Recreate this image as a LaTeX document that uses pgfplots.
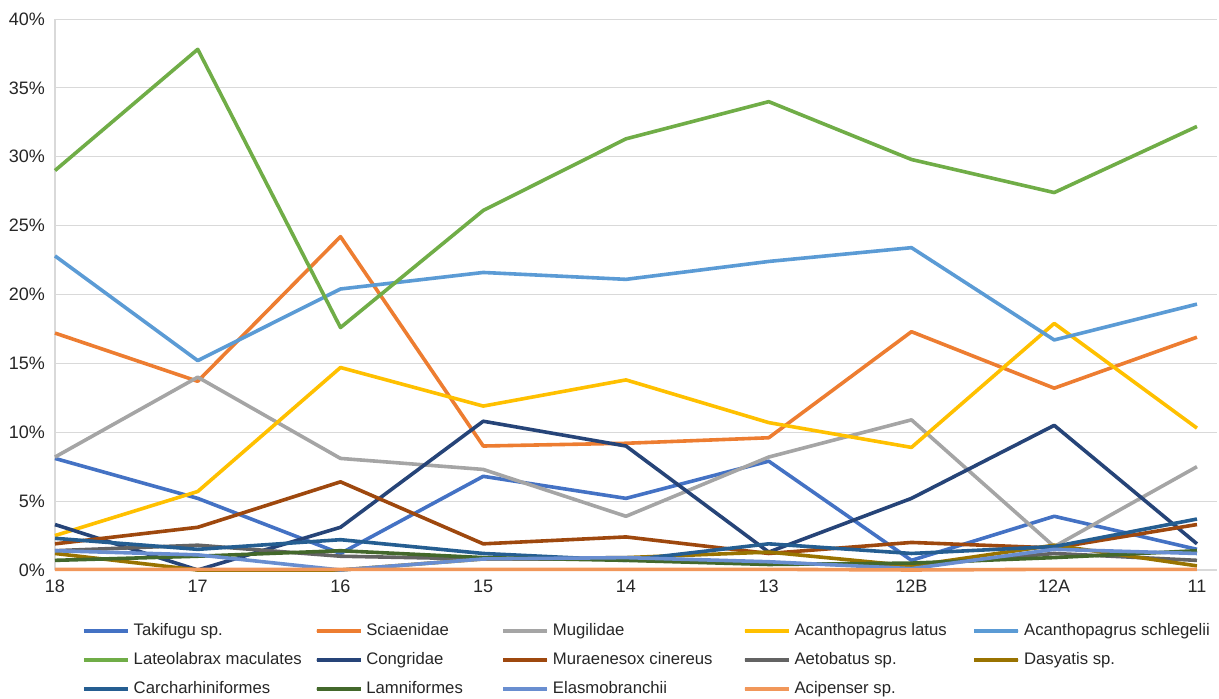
\documentclass[border=0pt]{standalone}
\usepackage{fontspec}
\setmainfont{Liberation Sans}
\usepackage{pgfplots}
\pgfplotsset{compat=1.18}

\definecolor{cTak}{HTML}{4472C4}
\definecolor{cSci}{HTML}{ED7D31}
\definecolor{cMug}{HTML}{A5A5A5}
\definecolor{cAla}{HTML}{FFC000}
\definecolor{cAsc}{HTML}{5B9BD5}
\definecolor{cLat}{HTML}{70AD47}
\definecolor{cCon}{HTML}{264478}
\definecolor{cMur}{HTML}{9E480E}
\definecolor{cAet}{HTML}{636363}
\definecolor{cDas}{HTML}{997300}
\definecolor{cCar}{HTML}{255E91}
\definecolor{cLam}{HTML}{43682B}
\definecolor{cEla}{HTML}{698ED0}
\definecolor{cAci}{HTML}{F1975A}
\definecolor{gridgray}{HTML}{D9D9D9}
\definecolor{labelgray}{HTML}{262626}

% fixed-width legend texts, one width per legend column
\newcommand{\ca}[1]{\makebox[177pt][l]{#1}}
\newcommand{\cb}[1]{\makebox[131pt][l]{#1}}
\newcommand{\cc}[1]{\makebox[186pt][l]{#1}}
\newcommand{\cd}[1]{\makebox[174pt][l]{#1}}

\begin{document}
\begin{tikzpicture}
\begin{axis}[
  scale only axis,
  width=1162pt, height=551pt,
  xmin=0, xmax=8.14,
  ymin=0, ymax=40,
  clip=false,
  axis x line*=bottom,
  axis y line*=left,
  axis line style={draw=gridgray, line width=1.2pt},
  xtick={0,...,8},
  xticklabels={18,17,16,15,14,13,12B,12A,11},
  ytick={0,5,...,40},
  yticklabel={\pgfmathprintnumber{\tick}\%},
  /pgf/number format/assume math mode=true,
  major tick length=0pt,
  ymajorgrids,
  grid style={draw=gridgray, line width=1pt},
  tick label style={font=\fontsize{18}{21}\selectfont, text=labelgray},
  yticklabel style={anchor=east, inner sep=0pt, xshift=-10pt},
  xticklabel style={anchor=north, inner sep=0pt, yshift=-10pt},
  every axis plot/.append style={line width=3.6pt, line join=round, no markers},
  legend columns=5,
  legend cell align=left,
  legend style={
    at={(0.0232,-0.0962)}, anchor=north west,
    draw=none, fill=none, inner sep=0pt,
    column sep=4pt, row sep=13pt,
    nodes={inner sep=0pt, text height=12pt, text depth=4pt,
           font=\fontsize{16.7}{19}\selectfont, text=labelgray},
  },
  legend image code/.code={%
    \draw[#1, line width=4pt, line cap=round] (2pt,0pt) -- (42pt,0pt);
    \path (0pt,0pt) -- (44pt,0pt);
  },
]

\coordinate (frameSW) at (rel axis cs:0,0);

\addplot[cTak] coordinates {(0,8.1) (1,5.2) (2,1.2) (3,6.8) (4,5.2) (5,7.9) (6,0.7) (7,3.9) (8,1.5)};
\addlegendentry{\ca{Takifugu sp.}}
\addplot[cSci] coordinates {(0,17.2) (1,13.7) (2,24.2) (3,9.0) (4,9.2) (5,9.6) (6,17.3) (7,13.2) (8,16.9)};
\addlegendentry{\cb{Sciaenidae}}
\addplot[cMug] coordinates {(0,8.2) (1,14.0) (2,8.1) (3,7.3) (4,3.9) (5,8.2) (6,10.9) (7,1.7) (8,7.5)};
\addlegendentry{\cc{Mugilidae}}
\addplot[cAla] coordinates {(0,2.5) (1,5.7) (2,14.7) (3,11.9) (4,13.8) (5,10.7) (6,8.9) (7,17.9) (8,10.3)};
\addlegendentry{\cd{Acanthopagrus latus}}
\addplot[cAsc] coordinates {(0,22.8) (1,15.2) (2,20.4) (3,21.6) (4,21.1) (5,22.4) (6,23.4) (7,16.7) (8,19.3)};
\addlegendentry{Acanthopagrus schlegelii}
\addplot[cLat] coordinates {(0,29.0) (1,37.8) (2,17.6) (3,26.1) (4,31.3) (5,34.0) (6,29.8) (7,27.4) (8,32.2)};
\addlegendentry{\ca{Lateolabrax maculates}}
\addplot[cCon] coordinates {(0,3.3) (1,0.0) (2,3.1) (3,10.8) (4,9.0) (5,1.3) (6,5.2) (7,10.5) (8,1.9)};
\addlegendentry{\cb{Congridae}}
\addplot[cMur] coordinates {(0,1.9) (1,3.1) (2,6.4) (3,1.9) (4,2.4) (5,1.2) (6,2.0) (7,1.6) (8,3.3)};
\addlegendentry{\cc{Muraenesox cinereus}}
\addplot[cAet] coordinates {(0,1.4) (1,1.8) (2,1.0) (3,0.8) (4,0.8) (5,0.5) (6,0.3) (7,1.2) (8,0.7)};
\addlegendentry{\cd{Aetobatus sp.}}
\addplot[cDas] coordinates {(0,1.2) (1,0.0) (2,0.0) (3,0.8) (4,0.9) (5,1.3) (6,0.3) (7,1.8) (8,0.3)};
\addlegendentry{Dasyatis sp.}
\addplot[cCar] coordinates {(0,2.3) (1,1.5) (2,2.2) (3,1.2) (4,0.7) (5,1.9) (6,1.2) (7,1.7) (8,3.7)};
\addlegendentry{\ca{Carcharhiniformes}}
\addplot[cLam] coordinates {(0,0.7) (1,1.0) (2,1.4) (3,0.9) (4,0.7) (5,0.4) (6,0.5) (7,0.9) (8,1.4)};
\addlegendentry{\cb{Lamniformes}}
\addplot[cEla] coordinates {(0,1.4) (1,1.1) (2,0.0) (3,0.8) (4,0.9) (5,0.6) (6,0.1) (7,1.5) (8,1.2)};
\addlegendentry{\cc{Elasmobranchii}}
\addplot[cAci] coordinates {(0,0.05) (1,0.05) (2,0.05) (3,0.05) (4,0.05) (5,0.05) (6,0.0) (7,0.05) (8,0.05)};
\addlegendentry{\cd{Acipenser sp.}}

\end{axis}
% page frame: 55pt left of the plot area, 129pt below it
\pgfresetboundingbox
\path (frameSW) ++(-55pt,-129pt) rectangle ++(1219pt,699pt);
\end{tikzpicture}
\end{document}
